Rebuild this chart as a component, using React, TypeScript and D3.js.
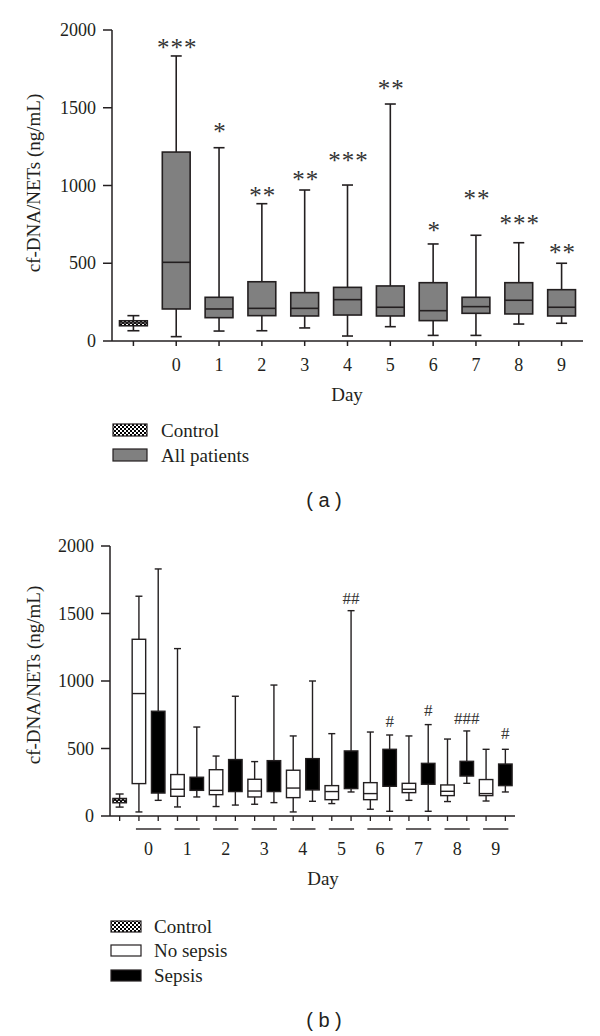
import React from "react";
import { scaleLinear, scaleBand } from "d3";

const width = 600;
const height = 1036;

// ---- data (ng/mL) ----
const yTicks = [0, 500, 1000, 1500, 2000];
const days = ["0", "1", "2", "3", "4", "5", "6", "7", "8", "9"];

// control group (same in both panels)
const controlStats = [66, 98, 116, 130, 163]; // low, q1, median, q3, high

// panel (a) all patients
const allLow = [28, 64, 66, 84, 32, 92, 36, 36, 109, 114];
const allQ1 = [206, 150, 163, 161, 167, 161, 131, 178, 174, 161];
const allMedian = [506, 206, 210, 210, 266, 217, 195, 221, 262, 217];
const allQ3 = [1215, 281, 381, 311, 345, 354, 375, 281, 375, 330];
const allHigh = [1833, 1243, 883, 971, 1003, 1524, 624, 680, 632, 500];
const allStars = ["***", "*", "**", "**", "***", "**", "*", "**", "***", "**"];
const allStarAt = [1916, 1376, 965, 1067, 1190, 1653, 741, 945, 785, 598];

// panel (b) no sepsis
const nsLow = [30, 67, 70, 87, 30, 92, 50, 116, 107, 111];
const nsQ1 = [240, 146, 158, 141, 136, 121, 121, 173, 151, 151];
const nsMedian = [907, 198, 190, 185, 207, 181, 166, 198, 183, 166];
const nsQ3 = [1309, 307, 343, 272, 339, 225, 247, 242, 230, 270];
const nsHigh = [1628, 1240, 444, 403, 593, 610, 622, 593, 570, 494];

// panel (b) sepsis
const sLow = [116, 141, 81, 99, 109, 178, 35, 35, 242, 178];
const sQ1 = [170, 190, 181, 181, 193, 203, 220, 235, 296, 225];
const sQ3 = [776, 287, 418, 410, 425, 482, 494, 390, 405, 385];
const sHigh = [1830, 659, 887, 970, 1000, 1521, 600, 677, 630, 494];
const sHash = ["", "", "", "", "", "##", "#", "#", "###", "#"];
const sHashAt = [0, 0, 0, 0, 0, 1613, 704, 783, 729, 615];

const serif = "'Liberation Serif', 'Times New Roman', serif";
const ink = "#231f20";

const Box = ({ cx, w, cap, y, low, q1, med, q3, high, fill, sw }) => (
  <g stroke={ink} strokeWidth={sw}>
    <line x1={cx} x2={cx} y1={y(high)} y2={y(q3)} />
    <line x1={cx} x2={cx} y1={y(q1)} y2={y(low)} />
    <line x1={cx - cap / 2} x2={cx + cap / 2} y1={y(high)} y2={y(high)} />
    <line x1={cx - cap / 2} x2={cx + cap / 2} y1={y(low)} y2={y(low)} />
    <rect x={cx - w / 2} y={y(q3)} width={w} height={y(q1) - y(q3)} fill={fill} />
    {med != null && <line x1={cx - w / 2} x2={cx + w / 2} y1={y(med)} y2={y(med)} />}
  </g>
);

const YAxis = ({ y, x0, labelY }) => (
  <g>
    <line x1={x0} x2={x0} y1={y(2000)} y2={y(0)} stroke={ink} strokeWidth={1.5} />
    {yTicks.map((t) => (
      <g key={t}>
        <line x1={x0 - 9} x2={x0} y1={y(t)} y2={y(t)} stroke={ink} strokeWidth={1.5} />
        <text x={x0 - 16} y={y(t) + 6} textAnchor="end" fontSize={18}>
          {t}
        </text>
      </g>
    ))}
    <text transform={`translate(40, ${labelY}) rotate(-90)`} textAnchor="middle" fontSize={19}>
      cf-DNA/NETs (ng/mL)
    </text>
  </g>
);

const PanelA = () => {
  const y = scaleLinear().domain([0, 2000]).range([341, 30]);
  const x = scaleBand()
    .domain(["C", ...days])
    .range([112, 583])
    .paddingInner(0.35)
    .paddingOuter(0.175);
  const c = (k) => x(k) + x.bandwidth() / 2;
  const w = x.bandwidth();
  return (
    <g>
      <YAxis y={y} x0={112} labelY={183} />
      <line x1={112} x2={583} y1={y(0)} y2={y(0)} stroke={ink} strokeWidth={1.5} />
      {x.domain().map((k) => (
        <line key={k} x1={c(k)} x2={c(k)} y1={y(0)} y2={y(0) + 5} stroke={ink} strokeWidth={1.5} />
      ))}
      {days.map((d) => (
        <text key={d} x={c(d)} y={371} textAnchor="middle" fontSize={18}>
          {d}
        </text>
      ))}
      <text x={347} y={401} textAnchor="middle" fontSize={19}>
        Day
      </text>
      <Box
        cx={c("C")}
        w={w}
        cap={12}
        y={y}
        low={controlStats[0]}
        q1={controlStats[1]}
        med={controlStats[2]}
        q3={controlStats[3]}
        high={controlStats[4]}
        fill="url(#checker)"
        sw={1.6}
      />
      {days.map((d, i) => (
        <g key={d}>
          <Box
            cx={c(d)}
            w={w}
            cap={11}
            y={y}
            low={allLow[i]}
            q1={allQ1[i]}
            med={allMedian[i]}
            q3={allQ3[i]}
            high={allHigh[i]}
            fill="#808080"
            sw={1.6}
          />
          <text
            x={c(d) + 1}
            y={y(allStarAt[i]) + 13}
            textAnchor="middle"
            fontSize={25}
            letterSpacing={1}
            fill="#333"
          >
            {allStars[i]}
          </text>
        </g>
      ))}
      {/* legend */}
      <rect x={113} y={424} width={34} height={12} fill="url(#checker)" stroke={ink} strokeWidth={1.2} />
      <text x={161} y={437} fontSize={19}>Control</text>
      <rect x={113} y={449} width={34} height={12} fill="#808080" stroke={ink} strokeWidth={1.2} />
      <text x={161} y={462} fontSize={19}>All patients</text>
      <text x={324} y={507} textAnchor="middle" fontSize={20} fontFamily="'Liberation Sans', Arial, sans-serif">
        ( a )
      </text>
    </g>
  );
};

const PanelB = () => {
  const y = scaleLinear().domain([0, 2000]).range([816, 546]);
  const keys = ["C"];
  days.forEach((d) => keys.push(`ns${d}`, `s${d}`));
  const x = scaleBand().domain(keys).range([110, 515]).paddingInner(0.3).paddingOuter(0.15);
  const c = (k) => x(k) + x.bandwidth() / 2;
  const w = x.bandwidth();
  return (
    <g>
      <YAxis y={y} x0={110} labelY={675} />
      <line x1={110} x2={515} y1={y(0)} y2={y(0)} stroke={ink} strokeWidth={1.5} />
      {keys.map((k) => (
        <line key={k} x1={c(k)} x2={c(k)} y1={y(0)} y2={y(0) + 5} stroke={ink} strokeWidth={1.3} />
      ))}
      {days.map((d) => (
        <g key={d}>
          <line x1={c(`ns${d}`) - 3} x2={c(`s${d}`) + 3} y1={829} y2={829} stroke={ink} strokeWidth={1.4} />
          <text x={(c(`ns${d}`) + c(`s${d}`)) / 2} y={855} textAnchor="middle" fontSize={18}>
            {d}
          </text>
        </g>
      ))}
      <text x={323} y={885} textAnchor="middle" fontSize={19}>
        Day
      </text>
      <Box
        cx={c("C")}
        w={w}
        cap={8}
        y={y}
        low={controlStats[0]}
        q1={controlStats[1]}
        med={controlStats[2]}
        q3={controlStats[3]}
        high={controlStats[4]}
        fill="url(#checker)"
        sw={1.4}
      />
      {days.map((d, i) => (
        <g key={d}>
          <Box
            cx={c(`ns${d}`)}
            w={w}
            cap={7}
            y={y}
            low={nsLow[i]}
            q1={nsQ1[i]}
            med={nsMedian[i]}
            q3={nsQ3[i]}
            high={nsHigh[i]}
            fill="#fff"
            sw={1.4}
          />
          <Box
            cx={c(`s${d}`)}
            w={w}
            cap={7}
            y={y}
            low={sLow[i]}
            q1={sQ1[i]}
            med={null}
            q3={sQ3[i]}
            high={sHigh[i]}
            fill="#000"
            sw={1.4}
          />
          {sHash[i] && (
            <text x={c(`s${d}`)} y={y(sHashAt[i]) + 6} textAnchor="middle" fontSize={17} fill="#333">
              {sHash[i]}
            </text>
          )}
        </g>
      ))}
      {/* legend */}
      <rect x={111} y={921} width={30} height={11} fill="url(#checker)" stroke={ink} strokeWidth={1.2} />
      <text x={154} y={933} fontSize={19}>Control</text>
      <rect x={111} y={945} width={30} height={11} fill="#fff" stroke={ink} strokeWidth={1.2} />
      <text x={154} y={957} fontSize={19}>No sepsis</text>
      <rect x={111} y={970} width={30} height={11} fill="#000" stroke={ink} strokeWidth={1.2} />
      <text x={154} y={982} fontSize={19}>Sepsis</text>
      <text x={324} y={1027} textAnchor="middle" fontSize={20} fontFamily="'Liberation Sans', Arial, sans-serif">
        ( b )
      </text>
    </g>
  );
};

export default function App() {
  return (
    <svg
      width={width}
      height={height}
      style={{ position: "absolute", left: 0, top: 0, background: "#fff" }}
      fontFamily={serif}
      fill={ink}
    >
      <defs>
        <pattern id="checker" width={4} height={4} patternUnits="userSpaceOnUse">
          <rect width={4} height={4} fill="#fff" />
          <rect width={2} height={2} fill="#000" />
          <rect x={2} y={2} width={2} height={2} fill="#000" />
        </pattern>
      </defs>
      <PanelA />
      <PanelB />
    </svg>
  );
}
